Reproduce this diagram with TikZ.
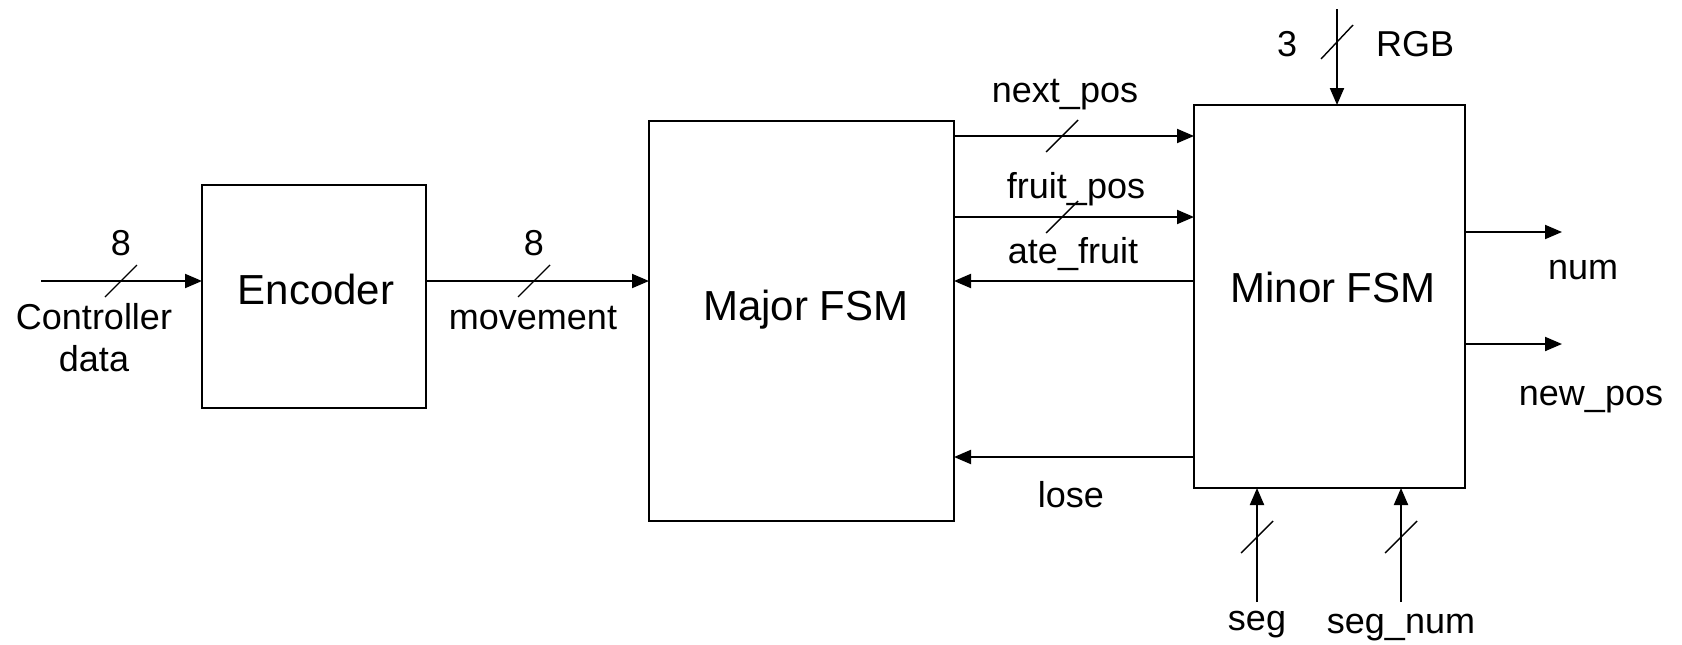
\documentclass[tikz,border=0pt]{standalone}
\usepackage{fontspec}
\setmainfont{Liberation Sans}
\usetikzlibrary{arrows.meta,calc}
\begin{document}
\begin{tikzpicture}[x=1pt,y=-1pt,
 box/.style={draw,line width=2pt,inner sep=0pt,outer sep=0pt},
 arr/.style={line width=2pt,-{Triangle[length=17pt,width=14pt]}},
 slash/.style={line width=1.4pt},
 lbl/.style={font=\fontsize{36}{42}\selectfont,inner sep=0pt,anchor=base},
 blbl/.style={font=\fontsize{42}{48}\selectfont,inner sep=0pt,anchor=base}]
\useasboundingbox (0,0) rectangle (1682,645);
% boxes
\node[box,minimum width=224pt,minimum height=223pt] (enc) at (314,296.5) {};
\node[box,minimum width=305pt,minimum height=400pt] (maj) at (801.5,321) {};
\node[box,minimum width=271pt,minimum height=383pt] (mnr) at (1329.5,296.5) {};
\node[blbl] (enct) at (316,304) {Encoder};
\node[blbl] (majt) at (806,320) {Major FSM};
\node[blbl] (mnrt) at (1333,302) {Minor FSM};
% helper coordinates
\coordinate (cin) at (41,281);
\coordinate (y136) at (0,136);
\coordinate (y217) at (0,217);
\coordinate (y281) at (0,281);
\coordinate (y457) at (0,457);
\coordinate (rgbin) at (1337,9);
\coordinate (segin) at (1257,602);
\coordinate (segnumin) at (1401,602);
\coordinate (numout) at (1562,232);
\coordinate (newposout) at (1562,344);
% connectors
\draw[arr] (cin) -- (cin -| enc.west);
\draw[arr] (enc.east |- y281) -- (maj.west |- y281);
\draw[arr] (maj.east |- y136) -- (mnr.west |- y136);
\draw[arr] (maj.east |- y217) -- (mnr.west |- y217);
\draw[arr] (mnr.west |- y281) -- (maj.east |- y281);
\draw[arr] (mnr.west |- y457) -- (maj.east |- y457);
\draw[arr] (rgbin) -- (rgbin |- mnr.north);
\draw[arr] (mnr.east |- numout) -- (numout);
\draw[arr] (mnr.east |- newposout) -- (newposout);
\draw[arr] (segin) -- (segin |- mnr.south);
\draw[arr] (segnumin) -- (segnumin |- mnr.south);
% bus slashes
\draw[slash] (121,281) ++(-16,16) -- ++(32,-32);
\draw[slash] (534,281) ++(-16,16) -- ++(32,-32);
\draw[slash] (1062,136) ++(-16,16) -- ++(32,-32);
\draw[slash] (1062,217) ++(-16,16) -- ++(32,-32);
\draw[slash] (1337,42) ++(-16,17) -- ++(32,-34);
\draw[slash] (1257,537) ++(-16,16) -- ++(32,-32);
\draw[slash] (1401,537) ++(-16,16) -- ++(32,-32);
% labels
\node[lbl] (l8a) at (121,255) {8};
\node[lbl] (lctrl) at (94,329) {Controller};
\node[lbl] (ldata) at (94,371) {data};
\node[lbl] (l8b) at (534,255) {8};
\node[lbl] (lmov) at (533,329) {movement};
\node[lbl] (lnext) at (1065,102) {next\_pos};
\node[lbl] (lfruit) at (1076,198) {fruit\_pos};
\node[lbl] (late) at (1073,263) {ate\_fruit};
\node[lbl] (llose) at (1071,507) {lose};
\node[lbl] (l3) at (1287,56) {3};
\node[lbl] (lrgb) at (1415,56) {RGB};
\node[lbl] (lnum) at (1583,279) {num};
\node[lbl] (lnew) at (1591,405) {new\_pos};
\node[lbl] (lseg) at (1257,630) {seg};
\node[lbl] (lsegnum) at (1401,633) {seg\_num};
\end{tikzpicture}
\end{document}
